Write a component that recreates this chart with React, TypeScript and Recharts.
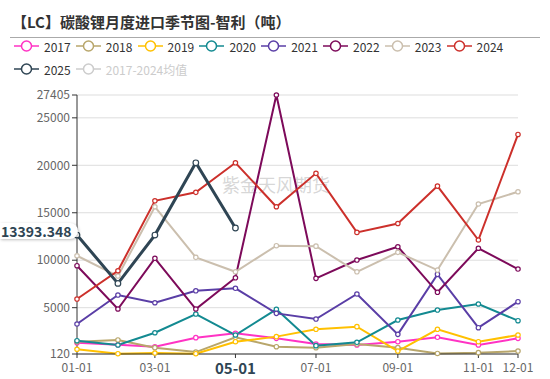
import React from "react";
import {
  CartesianGrid,
  Line,
  LineChart,
  XAxis,
  YAxis,
} from "recharts";

// day-of-year of each month start
const monthDays = [0, 31, 59, 90, 120, 151, 181, 212, 243, 273, 304, 334];
const tickDays = [0, 59, 120, 181, 243, 304, 334];
const tickLabels = ["01-01", "03-01", "05-01", "07-01", "09-01", "11-01", "12-01"];
const yTicks = [120, 5000, 10000, 15000, 20000, 25000, 27405];

const years = ["2017", "2018", "2019", "2020", "2021", "2022", "2023", "2024", "2025"];
const colors = [
  "#ff33c4",
  "#b8a66b",
  "#ffc000",
  "#138a91",
  "#5a3ea6",
  "#7d0a5a",
  "#cbbfae",
  "#cc302b",
  "#2f4554",
];

const s2017 = [1310, 1100, 890, 1840, 2300, 1770, 1170, 1070, 1415, 1880, 1070, 1770];
const s2018 = [1420, 1600, 790, 320, 1880, 890, 790, 1170, 790, 180, 260, 430];
const s2019 = [620, 150, 220, 150, 1415, 1950, 2720, 3000, 430, 2720, 1415, 2120];
const s2020 = [1520, 1070, 2360, 4330, 2120, 4830, 1000, 1350, 3700, 4750, 5390, 3630];
const s2021 = [3280, 6330, 5520, 6780, 7040, 4400, 3800, 6440, 2190, 8510, 2890, 5630];
const s2022 = [9420, 4860, 10200, 4860, 8150, 27405, 8090, 10020, 11420, 6620, 11260, 9070];
const s2023 = [10470, 8330, 15630, 10300, 8780, 11530, 11480, 8780, 10830, 8960, 15920, 17210];
const s2024 = [5910, 8890, 16260, 17150, 20265, 15630, 19150, 12930, 13870, 17810, 12130, 23250];
const s2025 = [12650, 7560, 12650, 20265, 13393.348];

const series = [s2017, s2018, s2019, s2020, s2021, s2022, s2023, s2024, s2025];

const data = monthDays.map((d, i) => {
  const row: Record<string, number | undefined> = { day: d };
  years.forEach((y, k) => {
    row["y" + y] = series[k][i];
  });
  return row;
});

const FONT = '"Noto Sans CJK SC", "Noto Sans", sans-serif';

function XTick(props: any) {
  const { x, y, payload } = props;
  const idx = tickDays.indexOf(payload.value);
  const label = tickLabels[idx] ?? "";
  const bold = label === "05-01";
  return (
    <text
      x={x}
      y={y + (bold ? 14 : 12)}
      textAnchor="middle"
      fontFamily={FONT}
      fontSize={bold ? 15 : 12}
      fontWeight={bold ? 700 : 400}
      fill={bold ? "#2f4554" : "#666"}
    >
      {label}
    </text>
  );
}

function LegendIcon({ color }: { color: string }) {
  return (
    <svg width={25} height={12} style={{ display: "block" }}>
      <line x1={0} y1={6} x2={25} y2={6} stroke={color} strokeWidth={1.5} />
      <circle cx={12.5} cy={6} r={5} fill="#fff" stroke={color} strokeWidth={1.5} />
    </svg>
  );
}

export default function App() {
  const legendItems = [
    ...years.map((y, i) => ({ name: y, color: colors[i], off: false })),
    { name: "2017-2024均值", color: "#ccc", off: true },
  ];
  return (
    <div
      style={{
        position: "absolute",
        left: 0,
        top: 0,
        width: 550,
        height: 379,
        background: "#fff",
        fontFamily: FONT,
      }}
    >
      <div
        style={{
          position: "absolute",
          left: 12,
          top: 11,
          fontSize: 15,
          fontWeight: 700,
          color: "#333",
          whiteSpace: "nowrap",
        }}
      >
        【LC】碳酸锂月度进口季节图-智利（吨）
      </div>
      <div
        style={{
          position: "absolute",
          left: 10,
          top: 37,
          width: 530,
          height: 1,
          background: "#aaa",
        }}
      />
      {legendItems.map((it, i) => {
        const row = i < 8 ? 0 : 1;
        const col = i < 8 ? i : i - 8;
        return (
          <div
            key={it.name}
            style={{
              position: "absolute",
              left: 14 + col * 61.8,
              top: 39 + row * 23,
              height: 14,
              display: "flex",
              alignItems: "center",
              gap: 5,
              fontSize: 12,
              color: it.off ? "#ccc" : "#333",
              whiteSpace: "nowrap",
            }}
          >
            <LegendIcon color={it.color} />
            <span>{it.name}</span>
          </div>
        );
      })}
      <div
        style={{
          position: "absolute",
          left: 222,
          top: 171,
          fontSize: 18,
          color: "rgba(180,180,180,0.55)",
          whiteSpace: "nowrap",
        }}
      >
        紫金天风期货
      </div>
      <div style={{ position: "absolute", left: 0, top: 0 }}>
        <LineChart
          width={550}
          height={379}
          data={data}
          margin={{ top: 95, right: 32, left: 17, bottom: 0 }}
        >
          <CartesianGrid vertical={false} stroke="#ddd" strokeWidth={1} />
          <XAxis
            dataKey="day"
            type="number"
            domain={[0, 334]}
            ticks={tickDays}
            interval={0}
            height={25}
            tick={<XTick />}
            tickSize={4}
            axisLine={{ stroke: "#333" }}
            tickLine={{ stroke: "#333" }}
          />
          <YAxis
            type="number"
            domain={[120, 27405]}
            ticks={yTicks}
            interval={0}
            width={60}
            tickSize={5}
            tick={{ fill: "#666", fontSize: 12, fontFamily: FONT }}
            axisLine={{ stroke: "#333" }}
            tickLine={{ stroke: "#333" }}
          />
          {years.map((y, i) => (
            <Line
              key={y}
              type="linear"
              dataKey={"y" + y}
              stroke={colors[i]}
              strokeWidth={y === "2025" ? 3 : 2}
              dot={{
                r: y === "2025" ? 2.8 : 2.2,
                fill: "#fff",
                stroke: colors[i],
                strokeWidth: 1.2,
              }}
              activeDot={false}
              connectNulls={false}
              isAnimationActive={false}
            />
          ))}
        </LineChart>
      </div>
      <div
        style={{
          position: "absolute",
          left: 0,
          top: 223,
          height: 16,
          paddingLeft: 1,
          paddingRight: 6,
          background: "#fff",
          boxShadow: "1px 1px 3px rgba(0,0,0,0.25)",
          fontSize: 14,
          fontWeight: 700,
          color: "#2f4554",
          lineHeight: "16px",
          whiteSpace: "nowrap",
          borderTopRightRadius: 8,
          borderBottomRightRadius: 8,
        }}
      >
        13393.348
      </div>
    </div>
  );
}
